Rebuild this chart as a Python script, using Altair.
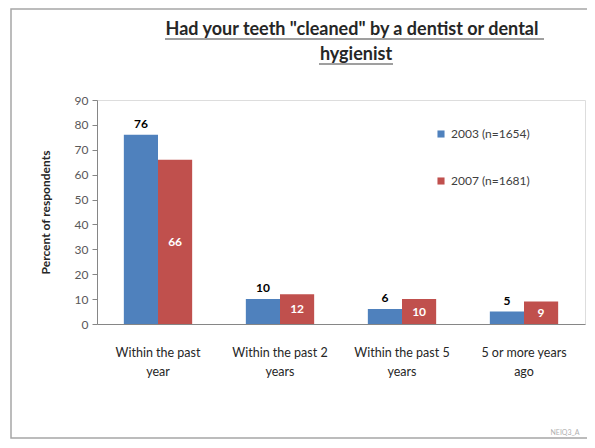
import altair as alt
import pandas as pd

categories = ["Within the past year", "Within the past 2 years",
              "Within the past 5 years", "5 or more years ago"]
category_lines = [["Within the past", "year"], ["Within the past 2", "years"],
                  ["Within the past 5", "years"], ["5 or more years", "ago"]]
series = ["2003 (n=1654)", "2007 (n=1681)"]
values_2003 = [76, 10, 6, 5]
values_2007 = [66, 12, 10, 9]
colors = ["#4F81BD", "#C0504D"]
title_lines = ['Had your teeth "cleaned"  by a dentist or dental', "hygienist"]
y_ticks = [0, 10, 20, 30, 40, 50, 60, 70, 80, 90]

rows = []
for i, c in enumerate(categories):
    rows.append({"cat": c, "series": series[0], "value": values_2003[i]})
    rows.append({"cat": c, "series": series[1], "value": values_2007[i]})
df = pd.DataFrame(rows)

FONT = "Lato"

# label expression for two-line category labels
expr = "''"
for c, lines in reversed(list(zip(categories, category_lines))):
    arr = "[" + ",".join("'" + l + "'" for l in lines) + "]"
    expr = f"datum.label == '{c}' ? {arr} : ({expr})"

x_enc = alt.X("cat:N", sort=categories,
              scale=alt.Scale(paddingInner=0.44, paddingOuter=0.22),
              axis=alt.Axis(title=None, labelAngle=0, labelExpr=expr, ticks=False,
                            labelPadding=22, labelLineHeight=19, labelFontSize=12.5,
                            labelColor="#262626", domainColor="#868686",
                            labelFont=FONT))
xo_enc = alt.XOffset("series:N", sort=series, scale=alt.Scale(paddingInner=0))
y_scale = alt.Scale(domain=[0, 90], nice=False)
y_axis = alt.Axis(values=y_ticks, title="Percent of respondents", grid=False,
                  titleFont=FONT, titleFontSize=12, titleFontWeight="bold",
                  titleColor="#262626", titleX=-45, titleY=112,
                  labelFont=FONT, labelFontSize=12, labelColor="#595959",
                  domainColor="#868686", tickColor="#868686", tickSize=5,
                  labelPadding=4, labelOverlap=False)

base = alt.Chart(df)

bars = base.mark_bar().encode(
    x=x_enc, xOffset=xo_enc,
    y=alt.Y("value:Q", scale=y_scale, axis=y_axis),
    color=alt.Color("series:N", sort=series,
                    scale=alt.Scale(domain=series, range=colors),
                    legend=alt.Legend(title=None, orient="none", legendX=338, legendY=28,
                                      symbolType="square", symbolSize=50,
                                      symbolStrokeWidth=0, labelFont=FONT,
                                      labelFontSize=12, labelColor="#404040",
                                      rowPadding=35, padding=0, labelOffset=4)),
)

labels_top = base.transform_filter(alt.datum.series == series[0]).mark_text(
    dy=-11, fontWeight="bold", fontSize=12, font=FONT, color="#000000"
).encode(x=x_enc, xOffset=xo_enc,
         y=alt.Y("value:Q", scale=y_scale, axis=y_axis),
         text=alt.Text("value:Q"))

labels_mid = base.transform_filter(alt.datum.series == series[1]).transform_calculate(
    mid="datum.value / 2"
).mark_text(fontWeight="bold", fontSize=12, font=FONT, color="#FFFFFF",
            baseline="middle").encode(
    x=x_enc, xOffset=xo_enc,
    y=alt.Y("mid:Q", scale=y_scale, axis=y_axis),
    text=alt.Text("value:Q"))

one = alt.Data(values=[{}])
title1 = alt.Chart(one).mark_text(fontSize=18, fontWeight="bold", font=FONT,
                                  color="#262626", align="center",
                                  baseline="alphabetic").encode(
    x=alt.value(255), y=alt.value(-65), text=alt.value(title_lines[0]))
title2 = alt.Chart(one).mark_text(fontSize=18, fontWeight="bold", font=FONT,
                                  color="#262626", align="center",
                                  baseline="alphabetic").encode(
    x=alt.value(259), y=alt.value(-40), text=alt.value(title_lines[1]))
underline1 = alt.Chart(one).mark_rule(color="#404040", strokeWidth=1.2).encode(
    x=alt.value(68), x2=alt.value(447), y=alt.value(-61))
underline2 = alt.Chart(one).mark_rule(color="#404040", strokeWidth=1.2).encode(
    x=alt.value(222), x2=alt.value(296), y=alt.value(-36))
frame = alt.Chart(one).mark_rect(fill=None, stroke="#A6A6A6", strokeWidth=1.5).encode(
    x=alt.value(-86), x2=alt.value(500), y=alt.value(-91), y2=alt.value(338))
watermark = alt.Chart(one).mark_text(fontSize=7, color="#B0B0B0", font=FONT).encode(
    x=alt.value(468), y=alt.value(333), text=alt.value("NEIQ3_A"))

chart = alt.layer(frame, bars, labels_top, labels_mid, title1, title2,
                  underline1, underline2, watermark).properties(
    width=488, height=224,
    autosize=alt.AutoSizeParams(type="none"),
    padding={"left": 89, "top": 92, "right": 2, "bottom": 116},
).configure_view(stroke=None).configure(background="white")

chart.save("out.html", embed_options={"renderer": "svg", "actions": False})
